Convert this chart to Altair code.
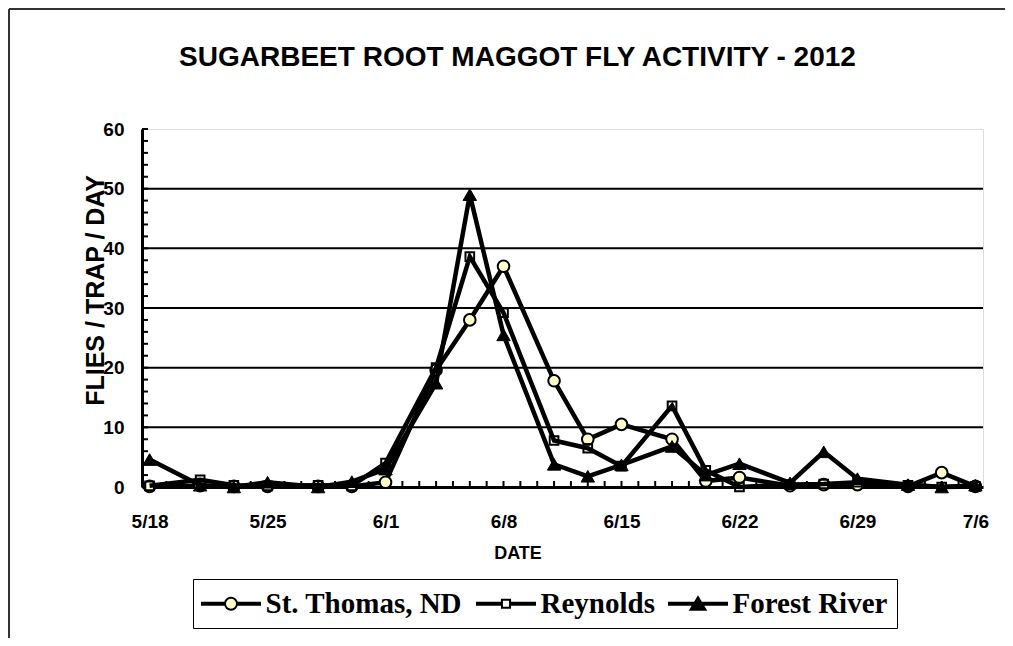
import altair as alt
import pandas as pd

# ---- data ----
dates = ["2012-05-18", "2012-05-21", "2012-05-23", "2012-05-25", "2012-05-28", "2012-05-30",
         "2012-06-01", "2012-06-04", "2012-06-06", "2012-06-08", "2012-06-11", "2012-06-13",
         "2012-06-15", "2012-06-18", "2012-06-20", "2012-06-22", "2012-06-25", "2012-06-27",
         "2012-06-29", "2012-07-02", "2012-07-04", "2012-07-06"]
st_thomas = [0.1, 0.2, 0.1, 0.1, 0.1, 0.1, 0.8, 19.6, 28.0, 37.0, 17.8, 8.0,
             10.5, 8.0, 1.0, 1.6, 0.2, 0.4, 0.4, 0.1, 2.4, 0.1]
reynolds = [0.2, 1.2, 0.3, 0.2, 0.3, 0.2, 4.0, 20.0, 38.6, 29.2, 7.8, 6.5,
            3.5, 13.6, 2.8, 0.0, 0.4, 0.5, 0.8, 0.3, 0.0, 0.1]
forest_river = [4.6, 0.3, 0.0, 0.8, 0.0, 0.9, 3.0, 17.4, 49.0, 25.5, 3.8, 1.8,
                3.7, 6.8, 2.0, 3.9, 0.7, 5.9, 1.4, 0.4, 0.0, 0.3]
series_names = ["St. Thomas, ND", "Reynolds", "Forest River"]
x_tick_labels = ["5/18", "5/25", "6/1", "6/8", "6/15", "6/22", "6/29", "7/6"]
y_tick_values = [0, 10, 20, 30, 40, 50, 60]
grid_values = [10, 20, 30, 40, 50]
y_minor_ticks = list(range(0, 61, 2))
x_minor_ticks = list(range(0, 50))

start = pd.Timestamp(dates[0])
days = [(pd.Timestamp(d) - start).days for d in dates]

rows = []
for name, vals in zip(series_names, [st_thomas, reynolds, forest_river]):
    for d, v in zip(days, vals):
        rows.append({"day": d, "value": v, "series": name})
df = pd.DataFrame(rows)

W, H = 841, 358
FONT = "Liberation Sans"

label_expr = "[" + ",".join("'%s'" % t for t in x_tick_labels) + "][round(datum.value/7)]"

xaxis = alt.Axis(values=[7 * i for i in range(len(x_tick_labels))], labelExpr=label_expr,
                 title="DATE", grid=False, ticks=False, tickSize=0,
                 domainColor="black", domainWidth=3, labelFont=FONT, labelFontSize=19,
                 labelFontWeight="bold", labelColor="black", labelPadding=25, labelFlush=False,
                 labelOverlap=False, titleFont=FONT, titleFontSize=18, titleFontWeight="bold",
                 titleColor="black", titleBaseline="alphabetic", titleY=71, titleX=W / 2 - 45)
yaxis = alt.Axis(values=y_tick_values, title="FLIES / TRAP / DAY", grid=False, ticks=False,
                 tickSize=0, domainColor="black", domainWidth=3, labelFont=FONT,
                 labelFontSize=19, labelFontWeight="bold", labelColor="black", labelPadding=18,
                 labelFlush=False, titleFont=FONT, titleFontSize=25, titleFontWeight="bold",
                 titleColor="black", titleX=-34, titleY=161)
xscale = alt.Scale(domain=[-0.45, 49.45], nice=False, zero=False)
yscale = alt.Scale(domain=[0, 60], nice=False, zero=True)


def X(field):
    return alt.X(field, type="quantitative", scale=xscale, axis=xaxis)


def Y(field):
    return alt.Y(field, type="quantitative", scale=yscale, axis=yaxis)


grid = alt.Chart(pd.DataFrame({"value": grid_values})).mark_rule(
    color="black", strokeWidth=2).encode(y=Y("value"))

yticks = alt.Chart(pd.DataFrame({"value": y_minor_ticks})).mark_rule(
    color="black", strokeWidth=2).encode(y=Y("value"), x=alt.value(0), x2=alt.value(6))

xticks = alt.Chart(pd.DataFrame({"day": x_minor_ticks})).mark_rule(
    color="black", strokeWidth=2).encode(x=X("day"), y=alt.value(H), y2=alt.value(H - 6))

base = alt.Chart(df)
marker = {
    "St. Thomas, ND": dict(shape="circle", size=135, fill="#FFFFCC", stroke="black", strokeWidth=2),
    "Reynolds": dict(shape="square", size=75, fill="transparent", stroke="black", strokeWidth=2),
    "Forest River": dict(shape="triangle-up", size=180, fill="black", stroke="black", strokeWidth=1),
}
series_layers = []
for name in series_names:
    sub = base.transform_filter(alt.datum.series == name)
    series_layers.append(sub.mark_line(color="black", strokeWidth=4.5).encode(x=X("day"), y=Y("value")))
    series_layers.append(sub.mark_point(opacity=1, filled=False, **marker[name]).encode(
        x=X("day"), y=Y("value")))

# legend symbols: line + marker (unit = 14.5 px)
line_l = "M-2,-0.07H-0.414V0.07H-2Z M0.414,-0.07H2V0.07H0.414Z "
circ = "M0.414,0A0.414,0.414,0,1,1,-0.414,0A0.414,0.414,0,1,1,0.414,0Z"
line_s = "M-2,-0.07H-0.28V0.07H-2Z M0.28,-0.07H2V0.07H0.28Z "
sq = "M-0.28,-0.28H0.28V0.28H-0.28Z"
tri = "M-2,-0.07H2V0.07H-2Z M0,-0.45L0.52,0.42H-0.52Z"
legend_paths = [line_l + circ, line_s + sq, tri]
legend_fills = ["#FFFFCC", "white", "black"]
legend_strokes = ["black", "black", "black"]

leg = alt.Legend(title=None, orient="none", legendX=51, legendY=450, direction="horizontal",
                 symbolSize=841, symbolOffset=13.5, labelOffset=19, symbolStrokeColor="black",
                 symbolStrokeWidth=2, symbolOpacity=1, labelFont="Liberation Serif",
                 labelFontSize=29, labelFontWeight="bold", labelColor="black", labelLimit=600,
                 columnPadding=10, padding=9, strokeColor="black")
legend_layer = base.mark_point(filled=True, opacity=0).encode(
    x=X("day"), y=Y("value"),
    shape=alt.Shape("series:N", scale=alt.Scale(domain=series_names, range=legend_paths), legend=leg),
    fill=alt.Fill("series:N", scale=alt.Scale(domain=series_names, range=legend_fills), legend=leg),
    stroke=alt.Stroke("series:N", scale=alt.Scale(domain=series_names, range=legend_strokes), legend=leg),
)

frame_data = alt.Chart(pd.DataFrame({"a": [0]}))
frame_left = frame_data.mark_rule(color="#333333", strokeWidth=2).encode(
    x=alt.value(-133), y=alt.value(-120), y2=alt.value(520))
frame_top = frame_data.mark_rule(color="#333333", strokeWidth=2).encode(
    x=alt.value(-133), x2=alt.value(880), y=alt.value(-120))

chart = alt.layer(grid, yticks, xticks, *series_layers, legend_layer, frame_left, frame_top).properties(
    width=W, height=H,
    autosize=alt.AutoSizeParams(type="none"),
    padding={"left": 134, "top": 121, "right": 22, "bottom": 151},
    title=alt.TitleParams("SUGARBEET ROOT MAGGOT FLY ACTIVITY - 2012", font=FONT, fontSize=28,
                          fontWeight="bold", color="black", anchor="middle", dx=-45,
                          baseline="alphabetic", offset=-86),
).configure_view(stroke="#808080", strokeWidth=2).configure(background="white")

chart.save("out.html", embed_options={"renderer": "svg", "actions": False})
